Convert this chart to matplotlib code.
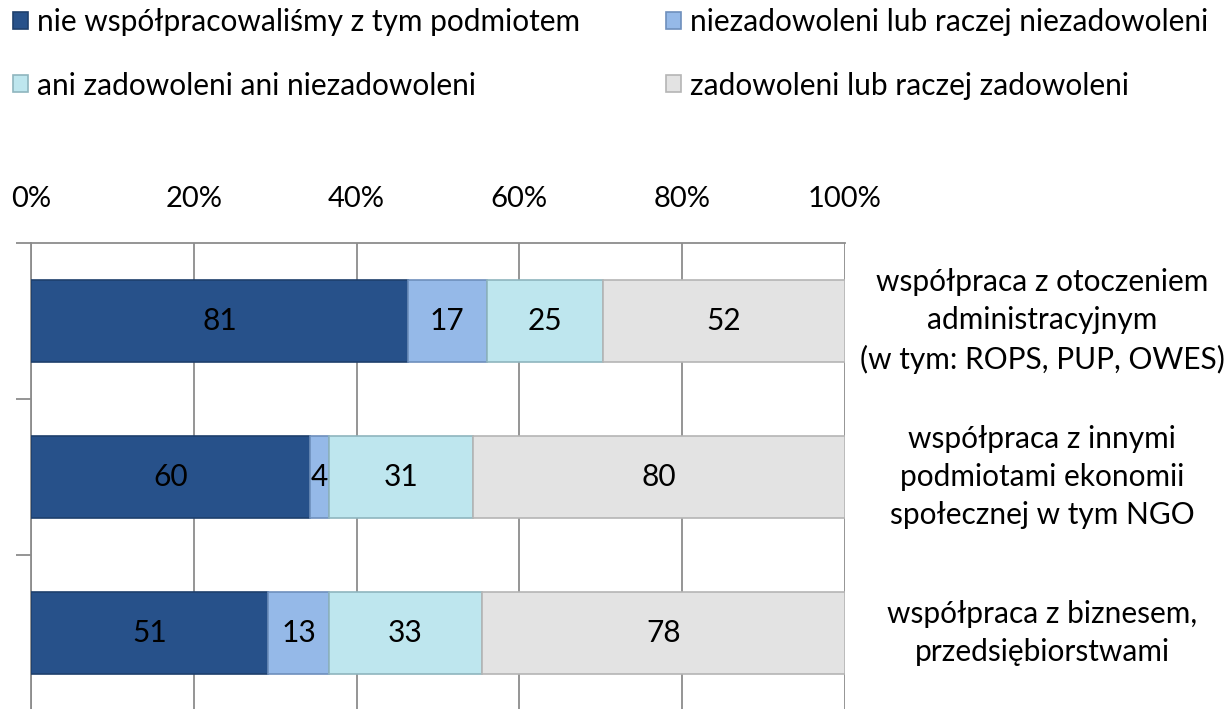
import numpy as np
import matplotlib
matplotlib.use("Agg")
import matplotlib.pyplot as plt

plt.rcParams["font.family"] = ["Lato", "DejaVu Sans"]

# ── data ──────────────────────────────
categories = [
    "współpraca z otoczeniem\nadministracyjnym\n(w tym: ROPS, PUP, OWES)",
    "współpraca z innymi\npodmiotami ekonomii\nspołecznej w tym NGO",
    "współpraca z biznesem,\nprzedsiębiorstwami",
]
series_names = [
    "nie współpracowaliśmy z tym podmiotem",
    "niezadowoleni lub raczej niezadowoleni",
    "ani zadowoleni ani niezadowoleni",
    "zadowoleni lub raczej zadowoleni",
]
not_cooperated = [81, 60, 51]
dissatisfied = [17, 4, 13]
neutral = [25, 31, 33]
satisfied = [52, 80, 78]

colors = ["#27518A", "#95B9E8", "#BEE6EE", "#E3E3E3"]
edges = ["#1E3F6C", "#6E8FBC", "#8FB5BE", "#B5B5B5"]

counts = np.array([not_cooperated, dissatisfied, neutral, satisfied], dtype=float)
totals = counts.sum(axis=0)
shares = counts / totals * 100

# ── figure ────────────────────────────
fig = plt.figure(figsize=(12.31, 7.09), dpi=100)
ax = fig.add_axes([31 / 1231, -2 / 709, (845 - 31) / 1231, (709 + 2 - 243) / 709])

y = np.arange(len(categories))
left = np.zeros(len(categories))
handles = []
for i, name in enumerate(series_names):
    bars = ax.barh(y, shares[i], left=left, height=0.53, color=colors[i],
                   edgecolor=edges[i], linewidth=1.2, label=name, zorder=3)
    ax.bar_label(bars, labels=[f"{int(v)}" for v in counts[i]],
                 label_type="center", fontsize=21.5, color="black")
    handles.append(bars)
    left += shares[i]

ax.set_xlim(0, 100)
ax.set_ylim(len(categories) - 0.5, -0.5)
ax.xaxis.tick_top()
ax.set_xticks(np.arange(0, 101, 20))
ax.set_xticklabels([f"{v}%" for v in range(0, 101, 20)], fontsize=21)
ax.tick_params(axis="x", length=0, pad=22)
ax.grid(axis="x", color="#8C8C8C", linewidth=1.3, zorder=0)

ax.set_yticks(np.arange(-0.5, len(categories), 1))
ax.set_yticklabels([])
ax.tick_params(axis="y", length=11, width=1.3, color="#8C8C8C")

for s in ["right", "bottom"]:
    ax.spines[s].set_visible(False)
for s in ["left", "top"]:
    ax.spines[s].set_color("#8C8C8C")
    ax.spines[s].set_linewidth(1.3)

for yi, cat in zip(y, categories):
    ax.text(1.242, yi, cat, transform=ax.get_yaxis_transform(),
            ha="center", va="center", fontsize=21.5, linespacing=1.45)

# legend is filled row by row in the original
order = [0, 2, 1, 3]
fig.legend(handles=[handles[k] for k in order],
           labels=[series_names[k] for k in order],
           loc="upper left", bbox_to_anchor=(-14 / 1231, 1.027),
           ncol=2, frameon=False, fontsize=21.5, handlelength=0.5,
           handleheight=0.5, handletextpad=0.3, columnspacing=2.9,
           labelspacing=1.2)

fig.savefig("out.png", dpi=100)
